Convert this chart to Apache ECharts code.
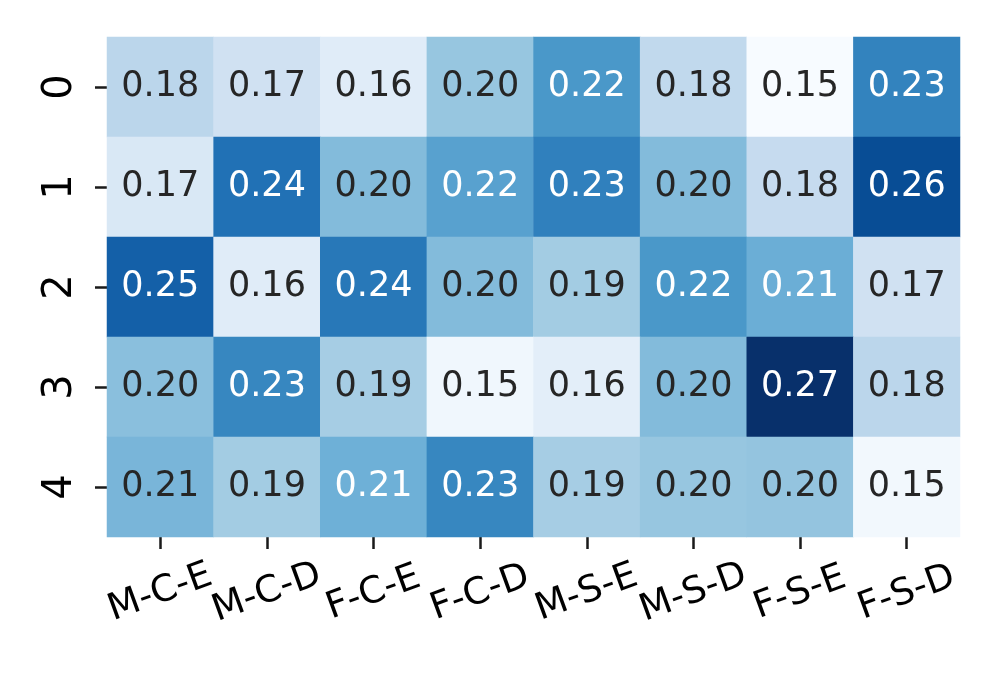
<!DOCTYPE html>
<html><head><meta charset="utf-8">
<script src="https://cdn.jsdelivr.net/npm/echarts@6/dist/echarts.min.js"></script>
<style>html,body{margin:0;padding:0;background:#fff}#c{width:997px;height:673px}</style>
</head><body><div id="c"></div>
<script>
const groups = ['M-C-E','M-C-D','F-C-E','F-C-D','M-S-E','M-S-D','F-S-E','F-S-D'];
const rowLabels = ['0','1','2','3','4'];
const row0 = [0.184, 0.174, 0.164, 0.197, 0.222, 0.182, 0.150, 0.232];
const row1 = [0.168, 0.240, 0.203, 0.217, 0.233, 0.203, 0.180, 0.257];
const row2 = [0.248, 0.164, 0.237, 0.203, 0.193, 0.222, 0.210, 0.174];
const row3 = [0.201, 0.230, 0.192, 0.154, 0.162, 0.203, 0.270, 0.184];
const row4 = [0.206, 0.193, 0.209, 0.230, 0.192, 0.197, 0.198, 0.153];
const rowsData = [row0, row1, row2, row3, row4];

const BLUES = ['#f7fbff','#deebf7','#c6dbef','#9ecae1','#6baed6','#4292c6','#2171b5','#08519c','#08306b'];
function hexToRgb(h){return [parseInt(h.slice(1,3),16),parseInt(h.slice(3,5),16),parseInt(h.slice(5,7),16)];}
function blues(t){
  t=Math.max(0,Math.min(1,t));
  const p=t*(BLUES.length-1); const i=Math.min(Math.floor(p),BLUES.length-2); const f=p-i;
  const a=hexToRgb(BLUES[i]), b=hexToRgb(BLUES[i+1]);
  return a.map((v,k)=>v+(b[k]-v)*f);
}
function lum(rgb){
  const c=rgb.map(v=>{v/=255;return v<=0.03928?v/12.92:Math.pow((v+0.055)/1.055,2.4);});
  return 0.2126*c[0]+0.7152*c[1]+0.0722*c[2];
}
const all=rowsData.flat();
const vmin=Math.min(...all), vmax=Math.max(...all);
const data=[];
rowsData.forEach((r,ri)=>r.forEach((v,ci)=>{
  const col=blues((v-vmin)/(vmax-vmin));
  data.push({value:[ci,ri,v],label:{color: lum(col)>0.408?'#262626':'#ffffff'}});
}));
const chart=echarts.init(document.getElementById('c'),null,{renderer:'canvas'});
chart.setOption({
  animation:false,
  backgroundColor:'#ffffff',
  grid:{left:107,right:37,top:37,bottom:136},
  xAxis:{type:'category',data:groups,
    axisLine:{show:false},
    axisTick:{show:true,alignWithLabel:true,interval:0,length:12,lineStyle:{color:'#1a1a1a',width:2.5}},
    axisLabel:{interval:0,hideOverlap:false,rotate:20,align:'center',verticalAlign:'middle',margin:56,fontSize:37,fontFamily:'DejaVu Sans',color:'#000'},
    splitLine:{show:false}},
  yAxis:{type:'category',data:rowLabels,inverse:true,
    axisLine:{show:false},
    axisTick:{show:true,alignWithLabel:true,interval:0,length:12,lineStyle:{color:'#1a1a1a',width:2.5}},
    axisLabel:{interval:0,rotate:90,align:'center',verticalAlign:'bottom',margin:26,fontSize:40,fontFamily:'DejaVu Sans',color:'#000'},
    splitLine:{show:false}},
  visualMap:{show:false,min:vmin,max:vmax,dimension:2,inRange:{color:BLUES}},
  series:[{type:'heatmap',data:data,
    label:{show:true,fontSize:35,fontFamily:'DejaVu Sans',formatter:p=>p.value[2].toFixed(2)},
    emphasis:{disabled:true}}]
});
</script></body></html>
